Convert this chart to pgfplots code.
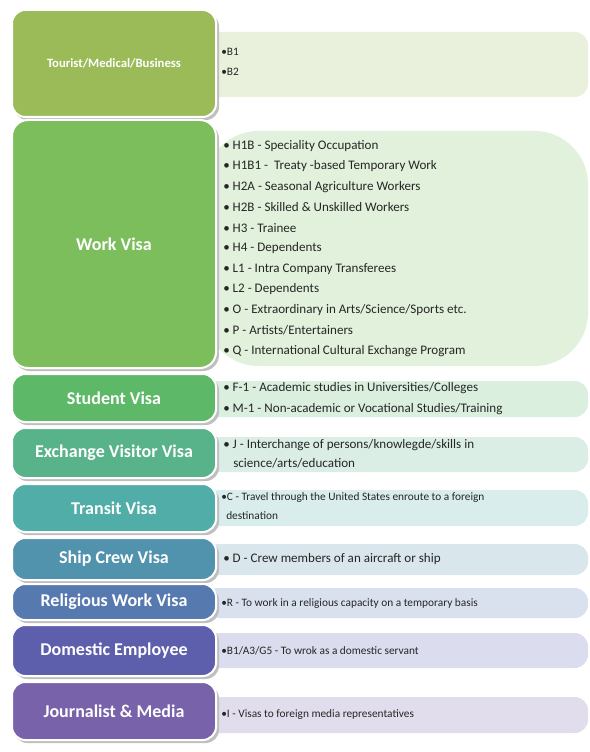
\documentclass[border=0pt]{standalone}
\usepackage{pgfplots}
\pgfplotsset{compat=1.18}
\usepackage{fontspec}
\setmainfont{Carlito}
\begin{document}
\begin{tikzpicture}
\begin{axis}[scale only axis, width=441.75pt, height=564pt, xmin=0, xmax=589, ymin=0, ymax=752, y dir=reverse, hide axis, clip=false]
\path[use as bounding box] (axis cs:0,0) rectangle (axis cs:589,752);
\def\row#1#2#3#4#5#6#7{%
  \fill[#3!22!white, rounded corners=10pt] (axis cs:205,#4) rectangle (axis cs:588,#5);
  \fill[black!25, rounded corners=10pt] (axis cs:14,#1+3) rectangle (axis cs:219,#2+3);
  \filldraw[fill=#3, draw=white, line width=1.5pt, rounded corners=10pt] (axis cs:12,#1) rectangle (axis cs:216,#2);
  \node[white, font=\bfseries#7, align=center] at (axis cs:114,{(#1+#2)/2}) {#6};
}
\definecolor{c1}{HTML}{9BBB59}\definecolor{c2}{HTML}{7CBE5B}\definecolor{c3}{HTML}{5DB867}
\definecolor{c4}{HTML}{58B28A}\definecolor{c5}{HTML}{50ADA7}\definecolor{c6}{HTML}{5192AD}
\definecolor{c7}{HTML}{5679B0}\definecolor{c8}{HTML}{5D5FAD}\definecolor{c9}{HTML}{7863AA}
\row{10}{117}{c1}{32}{97}{Tourist/Medical/Business}{\fontsize{9.5}{11}\selectfont}
\fill[c2!22!white, rounded corners=40pt] (axis cs:205,131) rectangle (axis cs:588,366);
\fill[black!25, rounded corners=12pt] (axis cs:14,123) rectangle (axis cs:219,371);
\filldraw[fill=c2, draw=white, line width=1.5pt, rounded corners=12pt] (axis cs:12,120) rectangle (axis cs:216,368);
\node[white, font=\bfseries\fontsize{13.5}{15}\selectfont] at (axis cs:114,244) {Work Visa};
\row{374}{422}{c3}{381}{417}{Student Visa}{\fontsize{13.5}{15}\selectfont}
\row{428}{478}{c4}{437}{472}{Exchange Visitor Visa}{\fontsize{13.5}{15}\selectfont}
\row{484}{532}{c5}{490}{526}{Transit Visa}{\fontsize{13.5}{15}\selectfont}
\row{538}{580}{c6}{544}{575}{Ship Crew Visa}{\fontsize{13.5}{15}\selectfont}
\row{584}{620}{c7}{588}{618}{Religious Work Visa}{\fontsize{13.5}{15}\selectfont}
\row{625}{676}{c8}{633}{668}{Domestic Employee}{\fontsize{13.5}{15}\selectfont}
\row{682}{740}{c9}{697}{733}{Journalist \& Media}{\fontsize{13.5}{15}\selectfont}
\tikzset{t/.style={anchor=west, inner sep=0pt, font=\fontsize{9.8}{11.5}\selectfont, text=black!85}}
\tikzset{s/.style={anchor=west, inner sep=0pt, font=\fontsize{8.5}{10}\selectfont, text=black!85}}
\node[s] at (axis cs:221,52) {•B1};
\node[s] at (axis cs:221,72) {•B2};
\node[t] at (axis cs:223,146) {• H1B - Speciality Occupation};
\node[t] at (axis cs:223,166.5) {• H1B1 -\ \ Treaty -based Temporary Work};
\node[t] at (axis cs:223,187) {• H2A - Seasonal Agriculture Workers};
\node[t] at (axis cs:223,207.5) {• H2B - Skilled \& Unskilled Workers};
\node[t] at (axis cs:223,228) {• H3 - Trainee};
\node[t] at (axis cs:223,248.5) {• H4 - Dependents};
\node[t] at (axis cs:223,269) {• L1 - Intra Company Transferees};
\node[t] at (axis cs:223,289.5) {• L2 - Dependents};
\node[t] at (axis cs:223,310) {• O - Extraordinary in Arts/Science/Sports etc.};
\node[t] at (axis cs:223,330.5) {• P - Artists/Entertainers};
\node[t] at (axis cs:223,351) {• Q - International Cultural Exchange Program};
\node[t] at (axis cs:223,388) {• F-1 - Academic studies in Universities/Colleges};
\node[t] at (axis cs:223,409) {• M-1 - Non-academic or Vocational Studies/Training};
\node[t] at (axis cs:223,445) {• J - Interchange of persons/knowlegde/skills in};
\node[t] at (axis cs:233,463) {science/arts/education};
\node[s] at (axis cs:221,498) {•C - Travel through the United States enroute to a foreign};
\node[s] at (axis cs:226,516) {destination};
\node[t] at (axis cs:223,559) {• D - Crew members of an aircraft or ship};
\node[s] at (axis cs:221,604) {•R - To work in a religious capacity on a temporary basis};
\node[s] at (axis cs:221,651) {•B1/A3/G5 - To wrok as a domestic servant};
\node[s] at (axis cs:221,715) {•I - Visas to foreign media representatives};
\end{axis}
\end{tikzpicture}
\end{document}
